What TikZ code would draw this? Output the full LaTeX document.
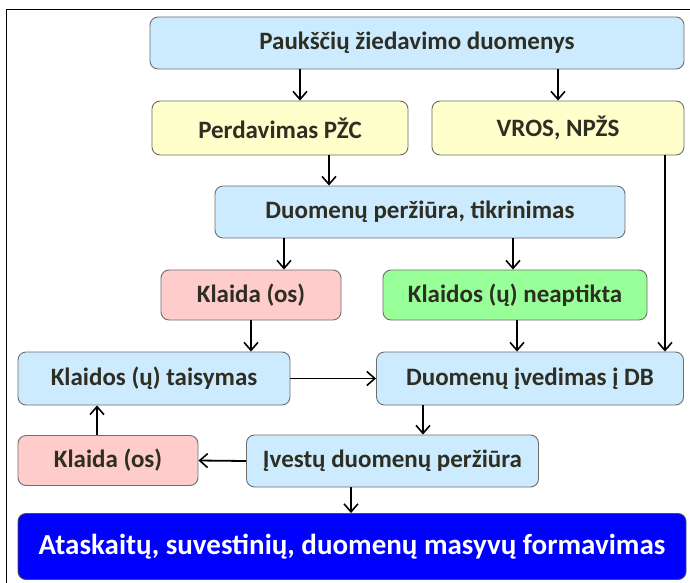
\documentclass[tikz,border=0pt]{standalone}
\usepackage{fontspec}
\setmainfont{Carlito}
\usetikzlibrary{arrows.meta}
\definecolor{lblue}{HTML}{CCEBFF}
\definecolor{lyellow}{HTML}{FFFFCC}
\definecolor{lpink}{HTML}{FFCCCC}
\definecolor{lgreen}{HTML}{99FF99}
\definecolor{dblue}{HTML}{0000FF}
\definecolor{txt}{HTML}{2E2E22}
\definecolor{bord}{HTML}{6E6E6E}
\tikzset{
  box/.style={draw=bord, line width=0.9pt, rounded corners=8pt, inner sep=0pt,
    font=\bfseries\fontsize{25}{28}\selectfont, text=txt},
  bluebox/.style={box, fill=lblue},
  yellowbox/.style={box, fill=lyellow},
  pinkbox/.style={box, fill=lpink},
  greenbox/.style={box, fill=lgreen},
  finalbox/.style={box, fill=dblue, draw=black!70, text=white,
    font=\bfseries\fontsize{29}{32}\selectfont},
  arr/.style={draw=black, line width=1.8pt, -{Straight Barb[length=8pt,width=14pt,line width=1.6pt]}},
}
\begin{document}
\begin{tikzpicture}[x=1pt,y=-1pt]
\useasboundingbox (0,0) rectangle (690,583);
\fill[white] (0,0) rectangle (690,583);
\draw[black, line width=0.8pt] (690,9) -- (6.5,9) -- (6.5,583);

\node[bluebox, minimum width=534pt, minimum height=52pt] (top) at (417,43) {Paukščių žiedavimo duomenys};
\node[yellowbox, minimum width=256pt, minimum height=54pt] (perd) at (280,128) {Perdavimas PŽC};
\node[yellowbox, minimum width=252pt, minimum height=54pt] (vros) at (558,128) {VROS, NPŽS};
\node[bluebox, minimum width=410pt, minimum height=52pt] (perz) at (420,212) {Duomenų peržiūra, tikrinimas};
\node[pinkbox, minimum width=180pt, minimum height=50pt] (kl1) at (251,295) {Klaida (os)};
\node[greenbox, minimum width=264pt, minimum height=50pt] (nea) at (515,295) {Klaidos (ų) neaptikta};
\node[bluebox, minimum width=272pt, minimum height=53pt] (tais) at (154,378.5) {Klaidos (ų) taisymas};
\node[bluebox, minimum width=307pt, minimum height=53pt] (ived) at (530,378.5) {Duomenų įvedimas į DB};
\node[pinkbox, minimum width=180pt, minimum height=50pt] (kl2) at (108,460.5) {Klaida (os)};
\node[bluebox, minimum width=292pt, minimum height=52pt] (ives) at (392.5,461) {Įvestų duomenų peržiūra};
\node[finalbox, minimum width=668pt, minimum height=66pt] (bot) at (352,546.5) {Ataskaitų, suvestinių, duomenų masyvų formavimas};

\draw[arr] (top.south -| 300,0) -- (perd.north -| 300,0);
\draw[arr] (top.south -| 558,0) -- (vros.north -| 558,0);
\draw[arr] (perd.south -| 329,0) -- (perz.north -| 329,0);
\draw[arr] (perz.south -| 284,0) -- (kl1.north -| 284,0);
\draw[arr] (perz.south -| 513,0) -- (nea.north -| 513,0);
\draw[arr] (kl1.south -| 251,0) -- (tais.north -| 251,0);
\draw[arr] (nea.south -| 517,0) -- (ived.north -| 517,0);
\draw[arr] (vros.south -| 665,0) -- (ived.north -| 665,0);
\draw[arr] (tais.east) -- (ived.west);
\draw[arr] (ived.south -| 423,0) -- (ives.north -| 423,0);
\draw[arr] (kl2.north -| 97,0) -- (tais.south -| 97,0);
\draw[arr] (ives.west) -- (kl2.east);
\draw[arr] (ives.south -| 351,0) -- (bot.north -| 351,0);
\end{tikzpicture}
\end{document}
